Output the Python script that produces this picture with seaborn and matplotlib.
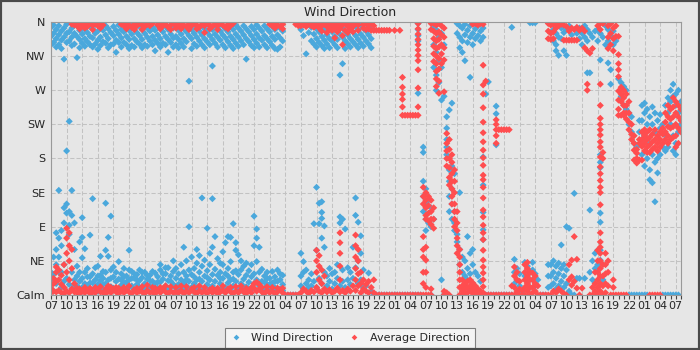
import matplotlib
matplotlib.use("Agg")
import matplotlib.pyplot as plt
from matplotlib.patches import Rectangle
from matplotlib.ticker import MultipleLocator
import pandas as pd
import seaborn as sns

# readings every half hour, starting 07:00 on day 1 (degrees, 0 = calm)
wind_day1 = [
    [353, 341, 330, 8, 20, 30], [356, 345, 333, 5, 27, 50], [350, 338, 327, 15, 40, 60, 82],
    [355, 343, 330, 30, 50, 75, 138], [348, 336, 325, 10, 30, 65, 85], [352, 340, 311, 18, 40, 95, 115],
    [357, 345, 333, 22, 108, 120, 190], [347, 335, 229, 14, 80, 92, 110], [352, 340, 329, 8, 30, 105, 138],
    [345, 331, 20, 60, 95, 12], [355, 341, 313, 12, 25, 38], [349, 337, 326, 18, 30, 70, 8],
    [356, 344, 332, 10, 22, 49, 76, 102], [350, 338, 328, 15, 30, 61, 6], [346, 334, 12, 24, 35],
    [354, 341, 330, 8, 24, 79, 16], [351, 339, 327, 16, 28, 127, 6], [357, 345, 331, 10, 20, 36],
    [348, 336, 324, 14, 25, 38, 5], [353, 340, 329, 12, 26, 51, 19], [349, 334, 8, 22, 31, 14],
    [355, 343, 332, 15, 30, 59, 121], [351, 338, 326, 20, 51, 76, 9], [346, 330, 11, 33, 104, 22],
    [354, 342, 331, 9, 24, 37], [349, 336, 320, 18, 30, 7], [356, 344, 333, 7, 21, 44],
    [350, 339, 327, 13, 28, 20], [347, 333, 16, 24, 35, 6], [353, 341, 330, 9, 25, 17],
    [349, 337, 325, 20, 33, 59, 10], [355, 344, 329, 12, 31, 22], [351, 338, 327, 7, 22, 28],
    [346, 334, 14, 27, 20, 6], [354, 342, 331, 19, 33, 10], [350, 337, 326, 10, 23, 30],
    [357, 345, 330, 15, 30, 7], [352, 340, 328, 8, 21, 26], [348, 335, 12, 26, 19],
    [353, 341, 330, 6, 18, 31], [349, 336, 322, 15, 29, 8], [355, 343, 332, 9, 24, 17],
    [351, 338, 327, 17, 33, 40, 8], [347, 332, 7, 21, 28], [354, 341, 330, 12, 28, 36],
    [350, 337, 320, 19, 36, 9], [356, 344, 333, 10, 25, 18], [352, 339, 327, 14, 31, 45],
]
wind_day2 = [
    [353, 341, 330, 9, 22, 35], [349, 337, 326, 14, 28, 6], [356, 344, 332, 8, 20, 40],
    [351, 338, 327, 16, 30, 63, 8], [347, 334, 12, 25, 45, 20], [354, 342, 282, 18, 33, 90, 7],
    [350, 338, 325, 10, 27, 50], [356, 345, 331, 15, 35, 24], [352, 340, 328, 20, 42, 60, 9],
    [348, 335, 12, 30, 52, 21], [355, 343, 330, 18, 38, 128, 6], [351, 338, 326, 9, 25, 46],
    [347, 334, 14, 32, 88, 23], [354, 342, 330, 20, 40, 55, 8], [350, 337, 302, 12, 63, 127, 27],
    [356, 344, 332, 18, 34, 77, 7], [352, 340, 327, 8, 26, 48], [348, 336, 15, 30, 42, 22],
    [355, 343, 330, 22, 40, 57, 10], [351, 339, 326, 10, 28, 69], [347, 334, 16, 35, 77, 25],
    [354, 341, 329, 20, 44, 76, 8], [350, 337, 325, 12, 30, 94, 21], [356, 344, 332, 18, 59, 69, 32],
    [352, 340, 328, 9, 27, 53], [348, 335, 15, 33, 45, 6], [355, 343, 330, 21, 38, 11],
    [351, 338, 311, 11, 26, 42], [347, 334, 17, 32, 8], [354, 342, 329, 8, 24, 40],
    [350, 337, 326, 15, 65, 104, 28], [356, 344, 332, 20, 44, 75, 87], [352, 339, 327, 12, 30, 63],
    [348, 336, 18, 34, 7], [355, 342, 330, 9, 25, 17], [351, 338, 326, 14, 30, 22],
    [347, 334, 7, 22, 14], [354, 341, 329, 16, 31, 8], [350, 337, 325, 10, 24, 18],
    [356, 343, 324, 18, 33, 7], [352, 339, 327, 8, 20, 28], [348, 335, 14, 26, 6],
    [0], [0], [0], [0], [0], [0],
]
wind_day3 = [
    [350, 12, 25, 55], [342, 8, 30, 44], [318, 355, 15, 33], [346, 20, 10],
    [335, 353, 12, 28], [356, 344, 331, 18, 94], [351, 338, 327, 10, 59, 142],
    [347, 333, 22, 94, 121], [354, 341, 329, 15, 75, 101, 109, 123], [349, 336, 325, 30, 63, 91],
    [355, 343, 331, 12, 25], [351, 338, 326, 18, 35], [347, 335, 8, 28],
    [354, 341, 330, 15, 30], [350, 337, 326, 22, 40], [356, 344, 290, 12, 95, 103],
    [352, 340, 305, 18, 33, 100], [348, 335, 325, 10, 87], [355, 343, 331, 20, 36],
    [351, 338, 327, 14, 30], [347, 334, 63, 22], [354, 342, 330, 36, 105, 128],
    [350, 337, 326, 96, 45, 15], [356, 344, 332, 55, 78, 20], [352, 340, 328, 33, 10],
    [348, 335, 12], [355, 343, 331, 29], [350, 338, 326, 5],
    [0], [0], [0], [0], [0], [0], [0], [0], [0], [0], [0], [0], [0], [0], [0], [0], [0],
    [358, 350, 342, 335, 266, 0], [0], [195, 188, 150, 130, 110],
]
wind_day4 = [
    [140, 120, 100, 85], [125, 95], [115, 90, 0], [355, 330, 300, 100],
    [350, 320, 290, 270], [340, 310, 280], [345, 300, 257, 20], [330, 262, 0],
    [235, 220, 205, 195, 185], [244, 165, 150, 130, 110], [253, 170, 140, 120, 100],
    [160, 110, 95, 85], [358, 345, 80, 70], [355, 340, 326, 135, 60, 40],
    [352, 335, 320, 50, 30, 10], [357, 343, 309, 45, 25, 12], [349, 333, 77, 35, 20],
    [355, 340, 287, 55, 28, 8], [358, 345, 330, 60, 40, 15], [351, 338, 30, 10],
    [355, 342, 25, 5], [348, 335, 18], [352, 340, 182, 145, 109, 86, 73],
    [265, 0], [281, 0], [0], [0], [249, 239, 198, 0], [0], [0], [0], [0], [0],
    [353, 0], [47, 30, 15], [20, 35], [12, 28], [5], [43, 25], [38, 18],
    [30, 10, 359], [43, 33, 20, 359], [28, 12, 359], [20], [0], [0], [0], [40, 25, 10],
]
wind_day5 = [
    [40, 25, 12], [350, 335, 45, 30, 15], [345, 330, 322, 38, 22, 8], [340, 316, 42, 28, 12],
    [352, 338, 66, 35, 18], [346, 322, 40, 25, 10], [350, 316, 90, 33, 15], [355, 88, 5],
    [343, 0], [134, 0], [345, 22], [352, 338, 22], [345, 330], [340, 355, 22],
    [350, 335, 293], [345, 293, 112, 30], [340, 45, 20], [348, 55, 35], [350, 335, 59, 40],
    [345, 310, 185, 175, 168, 108, 96, 59, 46], [340, 20], [355, 330], [350, 335, 306],
    [342, 297, 278], [348, 330], [335], [285], [280, 262], [275, 250], [270, 245],
    [240, 225, 0], [235, 215, 0], [200, 0], [195, 0], [230, 215, 0], [250, 230, 205, 185, 0],
    [253, 240, 210, 170, 0], [245, 225, 180, 0], [235, 200, 165, 152], [248, 225, 185, 148],
    [240, 215, 175, 123], [230, 180, 161], [238, 220, 185], [225, 195, 0],
    [250, 210, 190, 0], [260, 240, 195, 0], [270, 255, 225, 0], [278, 262, 210, 190, 0],
]
wind_day6 = [[265, 250, 200, 185, 0], [270, 240, 215, 0], [255, 225]]

avg_day1 = [
    [3, 9, 14], [5, 15, 22], [4, 18, 30, 37], [6, 20, 33], [3, 14, 26], [2, 10, 40],
    [5, 30, 55, 75, 88], [3, 20, 45, 65, 82], [357, 8, 35, 60], [356, 4, 15], [355, 3, 9],
    [358, 351, 2, 8], [356, 5], [357, 352, 3, 10], [354, 6], [358, 2, 9], [356, 350, 4],
    [357, 3, 10], [355, 7], [358, 352, 4, 11], [356, 3], [2, 8], [5, 12], [3, 10], [8],
    [4, 10], [2, 9], [357, 5], [355, 3, 10], [358, 351, 6], [356, 4, 12], [353, 2],
    [357, 350, 7], [355, 3, 9], [358, 5], [356, 350, 4, 11], [354, 2], [357, 6, 13],
    [355, 3], [358, 4, 10], [2, 9], [356, 5], [358, 351, 3, 10], [355, 8], [357, 4, 12],
    [353, 2], [356, 350, 5, 11], [358, 3],
]
avg_day2 = [
    [357, 352, 4, 10], [355, 3], [358, 351, 6, 12], [356, 2], [354, 5, 11], [357, 350, 3],
    [355, 8], [358, 4, 10], [356, 351, 2], [353, 6, 12], [357, 3], [355, 346, 5, 10],
    [358, 2], [356, 351, 7], [354, 3, 9], [357, 5], [355, 350, 2, 9], [358, 4],
    [356, 6, 12], [353, 3], [357, 351, 8], [355, 4, 10], [358, 2], [5, 11], [3], [7, 12],
    [4], [2, 9], [6], [3, 10], [9, 15], [5, 17], [8, 14], [4, 10], [2], [6, 11],
    [357, 3], [355, 5, 10], [358, 352, 2], [356, 4, 9], [354, 7], [357, 351, 3, 9],
    [0], [0], [0], [0], [357, 0], [355, 0],
]
avg_day3 = [
    [358, 355, 3], [356, 8], [358, 354, 5], [357, 2], [355, 6], [358, 353, 4],
    [356, 10, 30, 45, 59], [358, 352, 5, 20, 38, 52], [355, 348, 3, 15, 33], [357, 8, 25],
    [354, 346, 4], [358, 351, 7], [356, 349, 3], [358, 352, 339, 5], [355, 347, 9],
    [357, 351, 82, 69, 55, 38, 20, 4], [356, 342, 330, 6], [358, 349, 3], [355, 346, 8],
    [357, 351, 5], [354, 347, 12], [358, 79, 65, 50, 35, 20, 6], [356, 349, 60, 45, 28, 12],
    [30, 15, 3], [357, 352, 8, 20], [358, 350, 5, 14], [356, 351, 18, 3], [358, 349, 10],
    [355, 349, 3, 20], [349, 0], [349, 0], [349, 0], [349, 0], [349, 0], [349, 0], [0],
    [349, 0], [0], [349, 0], [287, 274, 265, 258, 248, 237, 0], [237, 0], [237, 0],
    [237, 0], [237, 0], [237, 0],
    [358, 351, 344, 337, 330, 323, 316, 309, 297, 273, 248, 237, 0],
    [0], [142, 130, 120, 77, 60, 50, 30, 15, 0],
]
avg_day4 = [
    [135, 125, 115, 105, 100, 63, 46, 30, 10, 0], [130, 118, 108, 98, 0],
    [125, 110, 100, 93, 358, 350, 8, 0], [358, 348, 338, 328, 318, 308, 115, 100, 88],
    [356, 345, 335, 325, 315, 305, 295, 285, 275], [358, 347, 337, 327, 312, 298, 282, 266],
    [355, 343, 330, 318, 305], [352, 340, 326, 310, 268, 5, 0],
    [213, 200, 190, 180, 170, 3], [205, 192, 180, 168, 155, 145, 0],
    [185, 175, 160, 150, 140, 130, 120], [165, 150, 135, 120, 110, 100, 90],
    [110, 95, 85, 75, 65, 55], [60, 50, 40, 30, 20, 10, 0], [20, 12, 5, 0], [15, 8, 2],
    [18, 10, 3], [20, 12, 5], [16, 8, 2, 357], [358, 12, 4], [356, 8, 0], [358, 5, 0],
    [303, 277, 265, 247, 228, 214, 202, 191, 181, 171, 158, 152, 142, 128, 112, 103,
     92, 82, 73, 59, 46, 37, 29, 20, 11, 3, 357],
    [282, 0], [0], [0], [0], [231, 225, 218, 210, 200, 0], [218, 0], [218, 0], [218, 0],
    [218, 0], [218, 0], [12, 0], [37, 25, 10, 0], [30, 20, 5], [18, 8, 0], [6, 0],
    [40, 30, 20, 10, 0], [43, 35, 25, 15, 5], [30, 20, 10, 0], [29, 20, 10, 3],
    [25, 15, 5], [12, 0], [0], [0], [0], [358, 348, 338, 0],
]
avg_day5 = [
    [356, 345, 337, 0], [357, 347, 338, 5], [358, 352, 3], [355, 8], [357, 5],
    [356, 336, 2], [354, 336, 0], [348, 336, 40, 20], [352, 336, 46, 24, 13],
    [350, 336, 77, 18], [353, 336, 47, 9], [349, 0], [352, 9], [348, 326],
    [322, 278, 270], [319, 0], [325, 10, 0], [30, 15, 5], [355, 59, 45, 30, 20, 10, 0],
    [358, 350, 278, 250, 233, 225, 218, 211, 202, 195, 182, 169, 160, 151, 142, 135,
     119, 82, 70, 63, 55, 45, 35, 25, 15, 5],
    [358, 188, 180, 40, 25, 12, 0], [55, 40, 28, 15, 3], [355, 340, 325, 45, 30, 12],
    [358, 345, 330, 0], [352, 338, 322, 20, 10, 0], [355, 341, 0],
    [341, 317, 305, 297, 288, 269, 257, 245, 237, 0], [237, 274, 265, 255, 0],
    [237, 270, 260, 250, 240, 0], [265, 250, 240, 232, 0], [255, 240, 228, 218],
    [225, 212, 205], [210, 200, 191, 178], [192, 187, 180, 174], [178, 205, 200],
    [178, 215, 205, 196], [218, 210, 200, 190], [215, 205, 195, 188],
    [218, 208, 198, 188, 0], [212, 202, 192, 0], [218, 205, 195, 0], [210, 200, 190, 0],
    [215, 205, 195, 0], [220, 212, 200], [240, 228, 215, 205], [250, 235, 222, 210, 200],
    [245, 232, 220, 205], [260, 248, 235, 222, 208],
]
avg_day6 = [[255, 240, 225, 210, 195], [250, 235, 220, 200], [245, 230, 215]]

x_labels = ["07", "10", "13", "16", "19", "22", "01", "04"] * 5 + ["07"]
y_labels = ["Calm", "NE", "E", "SE", "S", "SW", "W", "NW", "N"]


def to_frame(days, name):
    rows = []
    for d, day in enumerate(days):
        for i, values in enumerate(day):
            for v in values:
                rows.append({"Hour": 24 * d + 0.5 * i, "Direction": v, "Series": name})
    return pd.DataFrame(rows)


wind = to_frame([wind_day1, wind_day2, wind_day3, wind_day4, wind_day5, wind_day6],
                "Wind Direction")
avg = to_frame([avg_day1, avg_day2, avg_day3, avg_day4, avg_day5, avg_day6],
               "Average Direction")
df = pd.concat([wind, avg], ignore_index=True)

sns.set_style("whitegrid")
plt.rcParams["font.family"] = ["DejaVu Sans"]

fig = plt.figure(figsize=(7, 3.5), dpi=100)
fig.patch.set_facecolor("#e6e6e6")
ax = fig.add_axes([51 / 700, 55 / 350, 630 / 700, 273 / 350])
ax.set_facecolor("#e6e6e6")

sns.scatterplot(data=df, x="Hour", y="Direction", hue="Series",
                hue_order=["Wind Direction", "Average Direction"],
                palette=["#4aa8dc", "#ff4d4f"], marker="D", s=13, linewidth=0, ax=ax)

ax.set_xlim(0, 121)
ax.set_ylim(0, 360)
ax.set_xticks(range(0, 121, 3))
ax.set_xticklabels(x_labels)
ax.xaxis.set_minor_locator(MultipleLocator(1))
ax.set_yticks(range(0, 361, 45))
ax.set_yticklabels(y_labels)
ax.set_xlabel("")
ax.set_ylabel("")
ax.tick_params(axis="x", which="both", direction="out", length=3, width=0.8,
               color="#444444", labelsize=8, pad=1.5, bottom=True)
ax.tick_params(axis="y", length=0, labelsize=8, pad=4)
ax.grid(True, which="major", color="#c2c2c2", linestyle=(0, (4, 2)), linewidth=0.75)
ax.grid(False, which="minor")
for sp in ax.spines.values():
    sp.set_color("#999999")
    sp.set_linewidth(0.8)

fig.text(0.5, 1 - 12 / 350, "Wind Direction", ha="center", va="center", fontsize=9)

sns.move_legend(ax, "lower center", bbox_to_anchor=(0.5, 2 / 350),
                bbox_transform=fig.transFigure, ncol=2, title=None, frameon=True,
                fontsize=8, fancybox=False, edgecolor="#808080", facecolor="#f4f4f4",
                framealpha=1, handlelength=1.0, handletextpad=0.9, columnspacing=1.4,
                borderpad=0.45, borderaxespad=0, markerscale=0.8)
ax.get_legend().get_frame().set_linewidth(0.8)

fig.patches.append(Rectangle((0, 0), 1, 1, transform=fig.transFigure, fill=False,
                             edgecolor="#4a4a4a", linewidth=3, zorder=10))

fig.savefig("out.png", dpi=100, facecolor=fig.get_facecolor())
